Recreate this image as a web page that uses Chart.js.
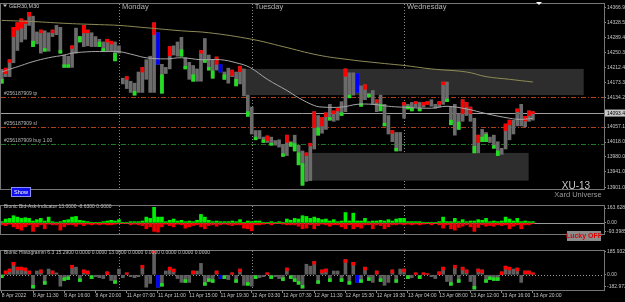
<!DOCTYPE html>
<html lang="en">
<head>
<meta charset="utf-8">
<title>GER30,M30</title>
<script src="https://cdn.jsdelivr.net/npm/chart.js@4.4.1/dist/chart.umd.min.js"></script>
<style>
  body { margin: 0; background: #000; }
  #contenedor { position: relative; width: 625px; height: 302px; background: #000; overflow: hidden; }
  canvas { position: absolute; left: 0; }
  #principal { top: 0; }
  #bidask { top: 202px; }
  #histo { top: 247px; }
</style>
</head>
<body>
<div id="contenedor">
  <canvas id="principal" width="625" height="202"></canvas>
  <canvas id="bidask" width="625" height="45"></canvas>
  <canvas id="histo" width="625" height="55"></canvas>
</div>
<script>
// Velas GER30 M30 (maximo / minimo)
const maximos = [
  14207,14210,14232,14316,14328,14338,14333,14355,14345,14304,
  14309,14307,14302,14309,14321,14316,14244,14241,14268,14314,
  14292,14321,14309,14302,14292,14285,14278,14285,14280,14278,
  14268,14184,14188,14176,14171,14200,14212,14232,14241,14328,
  14302,14220,14212,14266,14268,14278,14290,14237,14225,14217,
  14208,14256,14287,14244,14232,14239,14220,14200,14210,14205,
  14200,14215,14208,14140,14109,14048,14048,14031,14034,14031,
  14022,14024,14012,14036,14019,14036,14010,13995,13990,14015,
  14097,14087,14082,14094,14116,14099,14106,14123,14208,14198,
  14198,14196,14164,14167,14145,14152,14128,14140,14116,14087,
  14048,14043,14043,14121,14116,14121,14123,14121,14121,14123,
  14128,14116,14123,14174,14174,14109,14116,14092,14128,14121,
  14109,14080,14036,14051,14043,14031,14036,14019,14002,14065,
  14075,14075,14104,14116,14085,14099,14097
];
const minimos = [
  14171,14188,14188,14224,14256,14278,14285,14321,14266,14273,
  14249,14254,14254,14292,14297,14249,14212,14212,14212,14249,
  14278,14266,14268,14266,14266,14266,14254,14254,14254,14229,
  14249,14169,14157,14147,14140,14147,14147,14181,14147,14147,
  14220,14145,14196,14208,14244,14241,14241,14208,14181,14176,
  14176,14176,14225,14205,14184,14205,14200,14181,14171,14188,
  14164,14169,14138,14085,14039,14024,14027,14017,14017,14010,
  14010,14005,13981,13983,14007,13995,13959,13906,13916,13918,
  14000,14036,14041,14051,14075,14072,14075,14087,14097,14133,
  14140,14147,14111,14128,14135,14116,14097,14099,14060,14039,
  14019,13995,13995,14080,14104,14099,14109,14099,14109,14116,
  14111,14106,14109,14116,14123,14063,14036,14051,14072,14087,
  14072,13990,13990,14019,14019,14017,14002,13983,13986,14000,
  14024,14039,14060,14060,14058,14072,14075
];
// r = punta roja arriba, g = punta verde abajo, b = barra azul
const marcas = ("grrrrrrrg.rg.r.gggr.grr..ggrrg..r.g.r..rbg.r..gg.g.rgggrbg.r" +
  "gr.g.g.grg..grggggrrrgrrgrrgrg.bgrg.rgg.rg.rggrgrr..rrgg.grrrgrgg.gg.rr.r.rrr").split("");
// largo de la punta de color (en puntos de precio)
const puntas = [
  10,14,7,24,19,24,7,10,14,0,
  7,7,0,7,0,7,7,7,7,0,
  14,19,7,0,0,12,7,7,7,19,
  0,0,7,0,10,0,12,0,0,31,
  0,48,0,24,0,0,17,7,0,17,
  0,7,7,7,19,19,0,12,0,14,
  17,14,0,12,0,7,0,7,12,5,
  0,0,7,19,10,19,31,56,7,7,
  41,19,22,10,7,7,7,7,19,7,
  0,0,7,12,7,0,7,17,7,0,
  7,7,0,7,7,7,5,5,7,7,
  0,0,7,7,7,12,0,19,36,12,
  17,17,19,12,19,0,7,12,0,17,
  12,0,7,0,12,12,5
];

// Medias moviles
const mediaLentaX = [0, 8, 17, 25, 30, 38, 46, 53, 64, 72, 81, 89, 98, 103, 110, 119, 124, 130, 136];
const mediaLentaY = [14334, 14331, 14326, 14323, 14321, 14314, 14307, 14302, 14285, 14266, 14244, 14232, 14222, 14217, 14208, 14200, 14188, 14181, 14174];
const mediaRapidaX = [0, 2, 5, 8, 12, 16, 18, 23, 27, 30, 34, 37, 42, 46, 51, 56, 60, 63.5, 68, 73, 76, 80, 82, 87, 91, 95, 99, 102, 110, 114, 119, 124, 130, 133, 136];
const mediaRapidaY = [14200, 14207, 14217, 14227, 14237, 14244, 14249, 14253, 14253, 14253, 14244, 14237, 14234, 14237, 14232, 14232, 14224, 14212, 14181, 14152, 14133, 14113, 14109, 14109, 14116, 14116, 14111, 14109, 14106, 14111, 14104, 14092, 14080, 14077, 14080];

// Zonas (rectangulos grises)
const zonasDesde = [61.7, 78.1];
const zonasHasta = [149, 134.9];
const zonasArriba = [14208, 13990];
const zonasAbajo = [14140, 13918];

// Niveles de la orden
const niveles = [14134, 14057, 14013];
const nivelesNombre = ["#256187909 tp", "#256187909 sl", "#256187909 buy 1.00"];
const nivelesColor = ["#b0401a", "#b0401a", "#1f7a1f"];
const precioActual = 14093.4;

// Separadores de dia
const diasPos = [30, 64, 103];
const diasNombre = ["Monday", "Tuesday", "Wednesday"];

// Eje de precios
const preciosTicks = [14366.9, 14328.5, 14289.4, 14250.3, 14212.4, 14173.3, 14134.2, 14057.1, 14018.0, 13980.0, 13941.0, 13901.0];

// Indicador Bid-Ask
const compras = [
  14,43,50,79,64,50,57,50,21,36,
  50,21,64,14,7,14,29,36,64,71,
  29,21,14,7,7,7,14,21,29,21,
  36,4,7,14,14,14,21,64,50,171,
  64,64,14,29,43,21,29,14,21,14,
  29,93,64,29,14,21,14,14,14,21,
  14,36,7,21,14,21,21,7,7,14,
  7,14,7,43,29,50,43,79,71,50,
  64,50,36,43,21,36,14,21,114,21,
  107,21,21,50,14,21,21,29,21,36,
  21,43,50,50,14,14,14,14,7,7,
  7,7,14,64,14,14,50,14,36,14,
  21,21,36,29,50,14,21,14,21,64,
  43,21,50,14,21,14,14
];
const ventas = [
  -21,-29,-14,-43,-64,-79,-43,-21,-93,-43,
  -21,-64,-14,-21,-21,-79,-43,-21,-21,-36,
  -14,-29,-14,-21,-14,-21,-14,-21,-21,-14,
  -7,-7,-7,-21,-14,-21,-29,-64,-43,-93,
  -100,-43,-14,-29,-43,-14,-21,-57,-43,-29,
  -21,-43,-64,-29,-21,-36,-21,-14,-21,-29,
  -21,-21,-57,-64,-86,-21,-21,-14,-7,-21,
  -7,-7,-14,-21,-21,-21,-36,-64,-57,-21,
  -64,-29,-14,-21,-36,-21,-21,-43,-64,-21,
  -64,-43,-57,-21,-21,-64,-21,-29,-64,-43,
  -21,-21,-14,-21,-14,-21,-14,-21,-14,-7,
  -21,-7,-21,-57,-21,-64,-79,-50,-36,-21,
  -43,-93,-50,-21,-36,-29,-36,-21,-29,-21,
  -64,-36,-21,-64,-21,-21,-7
];
const ind1Ticks = [163.628, 0, -93.3985];
const ind1Etiquetas = ["163.6280", "0.00", "-93.3985"];

// Indicador Histogramm
const histograma = [
  -23,30,45,98,60,60,53,30,-105,30,
  38,-75,45,30,15,-90,-45,-38,75,60,
  -53,38,30,-30,-15,-23,-30,23,-45,-68,
  45,-23,15,-15,-23,-15,75,-98,-68,195,
  -98,-90,30,60,45,-30,-60,-60,-60,30,
  30,90,-83,-53,-60,30,-30,-30,-38,15,
  -60,45,-83,-83,-90,-30,-23,-15,15,-30,
  -15,-30,-45,53,-30,-53,-75,-105,83,68,
  105,-68,38,45,-53,30,30,-53,120,-75,
  98,-60,-60,60,-45,-60,30,-53,-83,-60,
  38,-60,45,45,-30,-23,15,-30,15,8,
  -15,-30,23,60,-53,-83,75,-60,60,38,
  -53,-113,45,38,-60,-38,-45,-45,23,68,
  60,45,53,-60,30,30,15
];
const marcasHist = ("grrrrrrrg.rg.r..ggr.grrg...r.g..r...r..rbg.rr..g.r..gggrbg.r" +
  "gr.g.g..rg..grgggg..rgrrg..grgrbgrg.rg..rg.rg.rgrr..rr.grgrr.grrggggrrr.r.rrr").split("");
const ind2Ticks = [185.932, 0, -90];
const ind2Etiquetas = ["185.932", "0.00", "-182.973"];

// Eje de tiempo
const posTiempo = [0, 8, 16, 24, 32, 40, 48, 56, 64, 72, 80, 88, 96, 104, 112, 120, 128, 136];
const etiquetasTiempo = ["8 Apr 2022", "8 Apr 11:30", "8 Apr 16:00", "8 Apr 20:00", "11 Apr 07:00", "11 Apr 11:00",
  "11 Apr 15:00", "11 Apr 19:30", "12 Apr 03:30", "12 Apr 07:30", "12 Apr 11:30", "12 Apr 15:30",
  "12 Apr 19:30", "13 Apr 04:00", "13 Apr 08:00", "13 Apr 12:00", "13 Apr 16:00", "13 Apr 20:00"];

const fuente = '"Liberation Sans", "DejaVu Sans", sans-serif';
const colorTexto = '#c4c4c4';
const colores = { r: '#ff0000', g: '#22dd22', b: '#0000ff' };

// Eje X comun a los tres paneles
function ejeX(visible) {
  return {
    type: 'linear', min: -0.2, max: 154.2, display: visible, position: 'bottom', offset: false,
    afterBuildTicks: s => { s.ticks = posTiempo.map(v => ({ value: v })); },
    afterFit: s => { s.height = 12; },
    grid: { display: true, offset: false, drawOnChartArea: false, drawTicks: true, tickLength: 3, color: '#8a8a8a' },
    border: { display: false },
    ticks: {
      callback: (v, i) => etiquetasTiempo[i], align: 'start', maxRotation: 0, autoSkip: false,
      padding: 0, color: colorTexto, font: { size: 5, family: fuente }
    }
  };
}

// Eje Y a la derecha con etiquetas fijas
function ejeY(min, max, valores, etiquetas) {
  return {
    type: 'linear', position: 'right', min: min, max: max,
    afterBuildTicks: s => { s.ticks = valores.map(v => ({ value: v })); },
    afterFit: s => { s.width = 21; },
    grid: { display: true, drawOnChartArea: false, drawTicks: true, tickLength: 2, color: '#8a8a8a' },
    border: { display: false },
    ticks: {
      callback: (v, i) => etiquetas[i], autoSkip: false, padding: 1,
      color: colorTexto, font: { size: 5, family: fuente }
    }
  };
}

function linea(ctx, x1, y1, x2, y2) {
  ctx.beginPath(); ctx.moveTo(x1, y1); ctx.lineTo(x2, y2); ctx.stroke();
}

// Marco y separadores de dia, para todos los paneles
const marco = {
  id: 'marco',
  beforeDatasetsDraw(chart) {
    const { ctx, chartArea: a, scales: { x } } = chart;
    ctx.save();
    ctx.strokeStyle = '#8c8c8c'; ctx.lineWidth = 1; ctx.setLineDash([1, 2]);
    diasPos.forEach(p => {
      const px = Math.round(x.getPixelForValue(p)) + 0.5;
      linea(ctx, px, a.top, px, a.bottom);
    });
    ctx.restore();
  },
  afterDraw(chart) {
    const { ctx, chartArea: a } = chart;
    ctx.save();
    ctx.strokeStyle = '#767676'; ctx.lineWidth = 1;
    ctx.strokeRect(a.left - 0.5, a.top - 0.5, a.right - a.left + 1, a.bottom - a.top + 1);
    ctx.restore();
  }
};

// Decoracion del panel de precios
const decoracionPrecio = {
  id: 'decoracionPrecio',
  beforeDatasetsDraw(chart) {
    const { ctx, chartArea: a, scales: { x, y } } = chart;
    ctx.save();
    // zonas
    ctx.fillStyle = '#2d2d2d';
    zonasDesde.forEach((d, i) => {
      const x1 = x.getPixelForValue(d), x2 = x.getPixelForValue(zonasHasta[i]);
      const y1 = y.getPixelForValue(zonasArriba[i]), y2 = y.getPixelForValue(zonasAbajo[i]);
      ctx.fillRect(x1, y1, x2 - x1, y2 - y1);
    });
    // niveles de la orden
    ctx.lineWidth = 1;
    niveles.forEach((n, i) => {
      const py = Math.round(y.getPixelForValue(n)) + 0.5;
      ctx.strokeStyle = nivelesColor[i]; ctx.setLineDash([5, 2, 1, 2]);
      linea(ctx, a.left, py, a.right, py);
      ctx.fillStyle = '#b8b8b8'; ctx.font = '5px ' + fuente; ctx.textBaseline = 'bottom';
      ctx.fillText(nivelesNombre[i], 4, py - 1);
    });
    // precio actual
    ctx.setLineDash([]); ctx.strokeStyle = '#a0a0a0';
    const pa = Math.round(y.getPixelForValue(precioActual)) + 0.5;
    linea(ctx, a.left, pa, a.right, pa);
    ctx.restore();
  },
  afterDraw(chart) {
    const { ctx, chartArea: a, scales: { x, y } } = chart;
    ctx.save();
    ctx.textBaseline = 'middle';
    // simbolo
    ctx.fillStyle = '#c8c8c8';
    ctx.beginPath(); ctx.moveTo(3, 4.5); ctx.lineTo(7, 4.5); ctx.lineTo(5, 7); ctx.fill();
    ctx.font = '5.5px ' + fuente;
    ctx.fillText('GER30,M30', 9, 6);
    // nombres de los dias
    ctx.font = '7.5px ' + fuente; ctx.fillStyle = '#b4b4b4';
    diasPos.forEach((p, i) => ctx.fillText(diasNombre[i], x.getPixelForValue(p) + 3, 7));
    // marca blanca arriba
    ctx.fillStyle = '#ffffff';
    ctx.beginPath(); ctx.moveTo(536, 2); ctx.lineTo(542, 2); ctx.lineTo(539, 5); ctx.fill();
    // boton Show
    ctx.fillStyle = '#1010ee'; ctx.fillRect(11, 187, 20, 10);
    ctx.strokeStyle = '#8c8cff'; ctx.strokeRect(11.5, 187.5, 19, 9);
    ctx.fillStyle = '#ffffff'; ctx.font = '5.5px ' + fuente; ctx.textAlign = 'center';
    ctx.fillText('Show', 21, 192.5);
    // marca de agua
    ctx.fillStyle = '#c8c8c8'; ctx.font = '10px ' + fuente;
    ctx.fillText('XU-13', 576, 186);
    ctx.fillStyle = '#9a9a9a'; ctx.font = '7.5px ' + fuente;
    ctx.fillText('Xard Universe', 578, 195);
    // etiqueta del precio actual
    const pa = y.getPixelForValue(precioActual);
    ctx.fillStyle = '#c8c8c8'; ctx.fillRect(a.right + 1, pa - 3.5, 20, 7);
    ctx.fillStyle = '#000000'; ctx.font = '5px ' + fuente; ctx.textAlign = 'left';
    ctx.fillText(precioActual.toFixed(1), a.right + 3, pa + 0.5);
    ctx.restore();
  }
};

// Decoracion de los subpaneles
function decoracionIndicador(titulo, punteada, boton) {
  return {
    id: 'deco' + titulo.length,
    beforeDatasetsDraw(chart) {
      const { ctx, chartArea: a, scales: { y } } = chart;
      ctx.save();
      ctx.strokeStyle = '#9a9a9a'; ctx.lineWidth = 1;
      if (punteada) ctx.setLineDash([1, 2]);
      const py = Math.round(y.getPixelForValue(0)) + 0.5;
      linea(ctx, a.left, py, a.right, py);
      ctx.restore();
    },
    afterDraw(chart) {
      const { ctx } = chart;
      ctx.save();
      ctx.fillStyle = '#c0c0c0'; ctx.font = '5px ' + fuente; ctx.textBaseline = 'middle';
      ctx.fillText(titulo, 4, punteada ? 6 : 5);
      if (boton) {
        ctx.fillStyle = '#8c8c8c'; ctx.fillRect(567, 29, 34, 10);
        ctx.fillStyle = '#e00000'; ctx.font = 'bold 7px ' + fuente; ctx.textAlign = 'center';
        ctx.fillText('Lucky OFF', 584, 34.5);
      }
      ctx.restore();
    }
  };
}

Chart.register(marco);
Chart.defaults.animation = false;
Chart.defaults.plugins.legend.display = false;
Chart.defaults.plugins.tooltip.enabled = false;

// Panel de precios
new Chart(document.getElementById('principal'), {
  type: 'bar',
  data: {
    datasets: [
      {
        type: 'line', order: 0, borderColor: '#8f8a55', borderWidth: 1, pointRadius: 0, tension: 0.4,
        data: mediaLentaX.map((v, i) => ({ x: v, y: mediaLentaY[i] }))
      },
      {
        type: 'line', order: 0, borderColor: '#a6a6a6', borderWidth: 1, pointRadius: 0, tension: 0.4,
        data: mediaRapidaX.map((v, i) => ({ x: v, y: mediaRapidaY[i] }))
      },
      {
        order: 1, grouped: false, barThickness: 3,
        backgroundColor: c => colores[marcas[c.dataIndex]],
        data: maximos.map((h, i) => {
          const l = minimos[i], m = marcas[i];
          if (m === 'r') return { x: i, y: [Math.max(l, h - puntas[i]), h] };
          if (m === 'g') return { x: i, y: [l, Math.min(h, l + puntas[i])] };
          if (m === 'b') return { x: i, y: [l, h] };
          return { x: i, y: null };
        })
      },
      {
        order: 2, grouped: false, barThickness: 3, backgroundColor: '#6b6b6b',
        data: maximos.map((h, i) => ({ x: i, y: [minimos[i], h] }))
      }
    ]
  },
  options: {
    responsive: false, devicePixelRatio: 1,
    layout: { padding: { left: 1, top: 2, bottom: 1, right: 0 } },
    scales: {
      x: ejeX(false),
      y: ejeY(13896.2, 14376.6, preciosTicks, preciosTicks.map(v => v.toFixed(1)))
    }
  },
  plugins: [decoracionPrecio]
});

// Panel Bid-Ask
new Chart(document.getElementById('bidask'), {
  type: 'bar',
  data: {
    datasets: [
      { grouped: false, barThickness: 3, backgroundColor: '#00f000', data: compras.map((v, i) => ({ x: i, y: v })) },
      { grouped: false, barThickness: 3, backgroundColor: '#f00000', data: ventas.map((v, i) => ({ x: i, y: v })) }
    ]
  },
  options: {
    responsive: false, devicePixelRatio: 1,
    layout: { padding: { left: 1, top: 1, bottom: 1, right: 0 } },
    scales: { x: ejeX(false), y: ejeY(-121.4, 185.6, ind1Ticks, ind1Etiquetas) }
  },
  plugins: [decoracionIndicador('Bionic Bid-Ask-Indicator 13.0000 -8.6300 0.0000', false, true)]
});

// Panel Histogramm
new Chart(document.getElementById('histo'), {
  type: 'bar',
  data: {
    datasets: [
      {
        order: 1, grouped: false, barThickness: 3,
        backgroundColor: c => colores[marcasHist[c.dataIndex]],
        data: histograma.map((v, i) => {
          const m = marcasHist[i];
          if (m === 'b') return { x: i, y: [0, v] };
          if (m === 'r') return { x: i, y: [Math.max(0, v - 22), v] };
          if (m === 'g') return { x: i, y: [v, Math.min(0, v + 22)] };
          return { x: i, y: null };
        })
      },
      {
        order: 2, grouped: false, barThickness: 3, backgroundColor: '#5e5e5e',
        data: histograma.map((v, i) => ({ x: i, y: v }))
      }
    ]
  },
  options: {
    responsive: false, devicePixelRatio: 1,
    layout: { padding: { left: 1, top: 2, bottom: 0, right: 0 } },
    scales: { x: ejeX(true), y: ejeY(-120, 187.5, ind2Ticks, ind2Etiquetas) }
  },
  plugins: [decoracionIndicador('Bionic Histogramm 6.3 15.2900 0.0000 0.0000 13.0000 0.0000 0.0000 0.0000 0.0000 0.0000', true, false)]
});
</script>
</body>
</html>
